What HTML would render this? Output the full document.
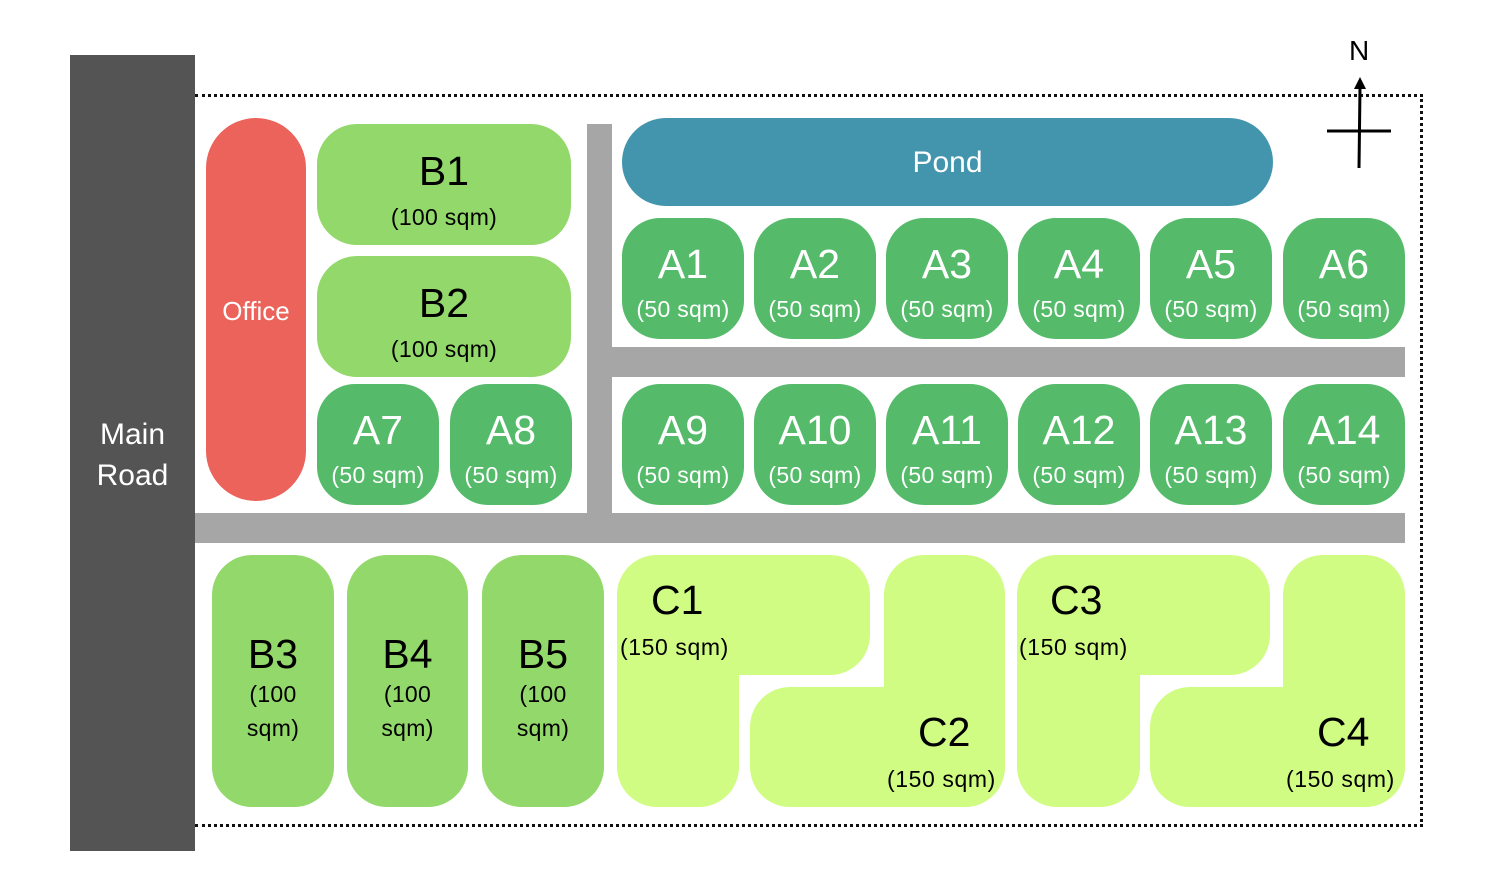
<!DOCTYPE html>
<html><head><meta charset="utf-8"><style>
body{margin:0;width:1486px;height:886px;background:#fff;position:relative;overflow:hidden;font-family:"Liberation Sans",sans-serif}
div{position:absolute;box-sizing:border-box}
.t{display:flex;flex-direction:column;align-items:center;justify-content:center;text-align:center}
.a{background:#55bb6b;color:#fff;border-radius:38px;width:122px;height:121px;padding-top:16px}
.a b{font-weight:normal;font-size:41px;line-height:44px}
.a i{font-style:normal;font-size:23px;line-height:46px;white-space:nowrap;letter-spacing:0.3px}
.bb{background:#93d86a;color:#000;border-radius:40px;padding-top:18px}
.bb b{font-weight:normal;font-size:41px;line-height:46px}
.bb i{font-style:normal;font-size:23px;line-height:46px;letter-spacing:0.3px}
.bv{padding-top:14px}
.bv i{line-height:34px}
.c{background:#d1fc84;border-radius:40px}
.g{background:#a6a6a6}
.lab{color:#000;white-space:nowrap}
.s{font-size:23px;letter-spacing:0.6px}
</style></head><body>
<div style="left:70px;top:55px;width:125px;height:796px;background:#545454"></div>
<div class="t" style="left:70px;top:410px;width:125px;height:90px;color:#fff;font-size:30px;line-height:41px">Main<br>Road</div>
<div style="left:195px;top:94px;width:1228px;height:733px;border-top:3px dotted #111;border-right:3px dotted #111;border-bottom:3px dotted #111"></div>
<div class="g" style="left:587px;top:124px;width:25px;height:390px"></div>
<div class="g" style="left:612px;top:347px;width:793px;height:30px"></div>
<div class="g" style="left:195px;top:513px;width:1210px;height:30px"></div>
<div class="t" style="left:206px;top:118px;width:100px;height:383px;background:#ec635b;border-radius:50px;color:#fff;font-size:26px;padding-top:4px">Office</div>
<div class="t bb" style="left:317px;top:124px;width:254px;height:121px"><b>B1</b><i>(100 sqm)</i></div>
<div class="t bb" style="left:317px;top:256px;width:254px;height:121px"><b>B2</b><i>(100 sqm)</i></div>
<div class="t a" style="left:317px;top:384px"><b>A7</b><i>(50 sqm)</i></div>
<div class="t a" style="left:450px;top:384px"><b>A8</b><i>(50 sqm)</i></div>
<div class="t" style="left:622px;top:118px;width:651px;height:88px;background:#4395ae;border-radius:44px;color:#fff;font-size:30px;padding-top:2px">Pond</div>
<div class="t a" style="left:622px;top:218px"><b>A1</b><i>(50 sqm)</i></div>
<div class="t a" style="left:754px;top:218px"><b>A2</b><i>(50 sqm)</i></div>
<div class="t a" style="left:886px;top:218px"><b>A3</b><i>(50 sqm)</i></div>
<div class="t a" style="left:1018px;top:218px"><b>A4</b><i>(50 sqm)</i></div>
<div class="t a" style="left:1150px;top:218px"><b>A5</b><i>(50 sqm)</i></div>
<div class="t a" style="left:1283px;top:218px"><b>A6</b><i>(50 sqm)</i></div>
<div class="t a" style="left:622px;top:384px"><b>A9</b><i>(50 sqm)</i></div>
<div class="t a" style="left:754px;top:384px"><b>A10</b><i>(50 sqm)</i></div>
<div class="t a" style="left:886px;top:384px"><b>A11</b><i>(50 sqm)</i></div>
<div class="t a" style="left:1018px;top:384px"><b>A12</b><i>(50 sqm)</i></div>
<div class="t a" style="left:1150px;top:384px"><b>A13</b><i>(50 sqm)</i></div>
<div class="t a" style="left:1283px;top:384px"><b>A14</b><i>(50 sqm)</i></div>
<div class="t bb bv" style="left:212px;top:555px;width:122px;height:252px"><b>B3</b><i>(100<br>sqm)</i></div>
<div class="t bb bv" style="left:347px;top:555px;width:121px;height:252px"><b>B4</b><i>(100<br>sqm)</i></div>
<div class="t bb bv" style="left:482px;top:555px;width:122px;height:252px"><b>B5</b><i>(100<br>sqm)</i></div>
<div class="c" style="left:617px;top:555px;width:253px;height:120px"></div>
<div class="c" style="left:617px;top:555px;width:122px;height:252px"></div>
<div class="c" style="left:884px;top:555px;width:121px;height:252px"></div>
<div class="c" style="left:750px;top:687px;width:255px;height:120px"></div>
<div class="c" style="left:1017px;top:555px;width:253px;height:120px"></div>
<div class="c" style="left:1017px;top:555px;width:123px;height:252px"></div>
<div class="c" style="left:1283px;top:555px;width:122px;height:252px"></div>
<div class="c" style="left:1150px;top:687px;width:255px;height:120px"></div>
<div class="lab" style="left:651px;top:577px;font-size:41px">C1</div>
<div class="lab s" style="left:620px;top:634px">(150 sqm)</div>
<div class="lab" style="left:918px;top:709px;font-size:41px">C2</div>
<div class="lab s" style="left:887px;top:766px">(150 sqm)</div>
<div class="lab" style="left:1050px;top:577px;font-size:41px">C3</div>
<div class="lab s" style="left:1019px;top:634px">(150 sqm)</div>
<div class="lab" style="left:1317px;top:709px;font-size:41px">C4</div>
<div class="lab s" style="left:1286px;top:766px">(150 sqm)</div>
<div class="lab" style="left:1349px;top:35px;font-size:28px">N</div>
<svg style="position:absolute;left:0;top:0" width="1486" height="886">
<line x1="1359" y1="168" x2="1360" y2="88" stroke="#000" stroke-width="3"/>
<polygon points="1360,77 1354,89 1366,89" fill="#000"/>
<line x1="1327" y1="131" x2="1391" y2="131" stroke="#000" stroke-width="3"/>
</svg>
</body></html>
